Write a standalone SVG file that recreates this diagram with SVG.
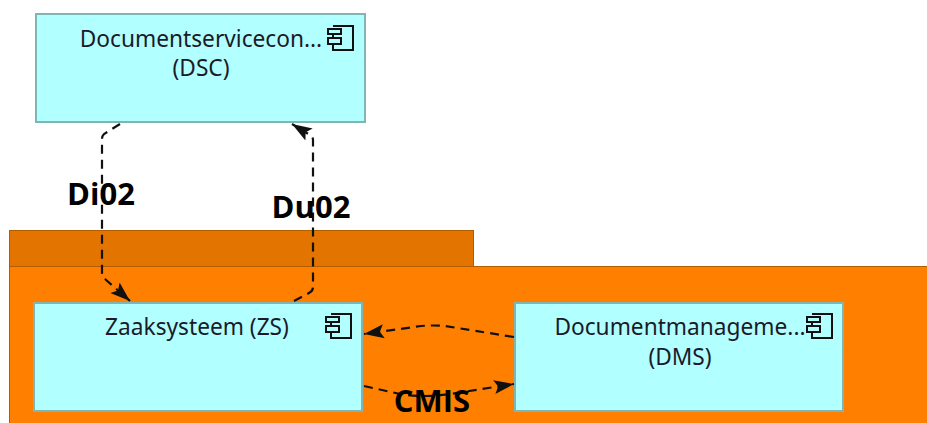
<svg xmlns="http://www.w3.org/2000/svg" width="927" height="423" viewBox="0 0 927 423">
<style>
.t{font-family:"Noto Sans","Open Sans",sans-serif;font-size:22.700px;fill:#1a1a2a;text-anchor:middle}
.l{font-family:"Open Sans","Noto Sans",sans-serif;font-size:31px;font-weight:700;fill:#000;text-anchor:middle}
.n{fill:#b2ffff;stroke:#7fb5b5;stroke-width:2}
.i{fill:none;stroke:#111;stroke-width:2}
.ib{fill:#b2ffff;stroke:#111;stroke-width:2}
.c{fill:none;stroke:#111;stroke-width:2.200;stroke-dasharray:9 6}
</style>
<defs>
<marker id="a" markerUnits="userSpaceOnUse" markerWidth="24" markerHeight="18" refX="20" refY="8" orient="auto"><path d="M0 1L20 8L0 15L4 8Z" fill="#111"/></marker>
<g id="icon">
<path class="i" d="M5 0H25V24H5V18M5 12V7"/>
<rect class="ib" x="0" y="3" width="13" height="5"/>
<rect class="ib" x="0" y="12" width="13" height="6"/>
</g>
</defs>
<g id="group-frame">
<rect x="9.500" y="230.500" width="464" height="36" fill="#e37400" stroke="#b35c00" stroke-width="1"/>
<rect x="9.500" y="266.500" width="919" height="160" fill="#ff8000" stroke="#b35c00" stroke-width="1"/>
</g>
<g id="node-dsc">
<rect class="n" x="36" y="14" width="329" height="108"/>
<use href="#icon" x="328" y="26"/>
<text class="t" x="201" y="47">Documentservicecon...</text>
<text class="t" x="201" y="76">(DSC)</text>
</g>
<g id="node-zs">
<rect class="n" x="34" y="303" width="328" height="108"/>
<use href="#icon" x="326" y="314"/>
<text class="t" x="197" y="335">Zaaksysteem (ZS)</text>
</g>
<g id="node-dms">
<rect class="n" x="515" y="303" width="328" height="108"/>
<use href="#icon" x="807" y="314"/>
<text class="t" x="680" y="335">Documentmanageme...</text>
<text class="t" x="680" y="365">(DMS)</text>
</g>
<g id="connectors">
<path class="c" marker-end="url(#a)" d="M120 124L104 134Q102 136 102 139V273Q102 277 105 279L130 301"/>
<path class="c" marker-end="url(#a)" d="M294 301L309 293Q313 291 313 287V140Q313 137 310 135L292 124"/>
<path class="c" marker-end="url(#a)" d="M514 337Q470 330 445 326Q433 325 421 326L364 334"/>
<path class="c" marker-end="url(#a)" d="M364 386L400 394Q425 398 450 394L514 384"/>
</g>
<g id="labels">
<text class="l" x="101" y="205">Di02</text>
<text class="l" x="311" y="218">Du02</text>
<text class="l" x="432" y="412">CMIS</text>
</g>
</svg>
